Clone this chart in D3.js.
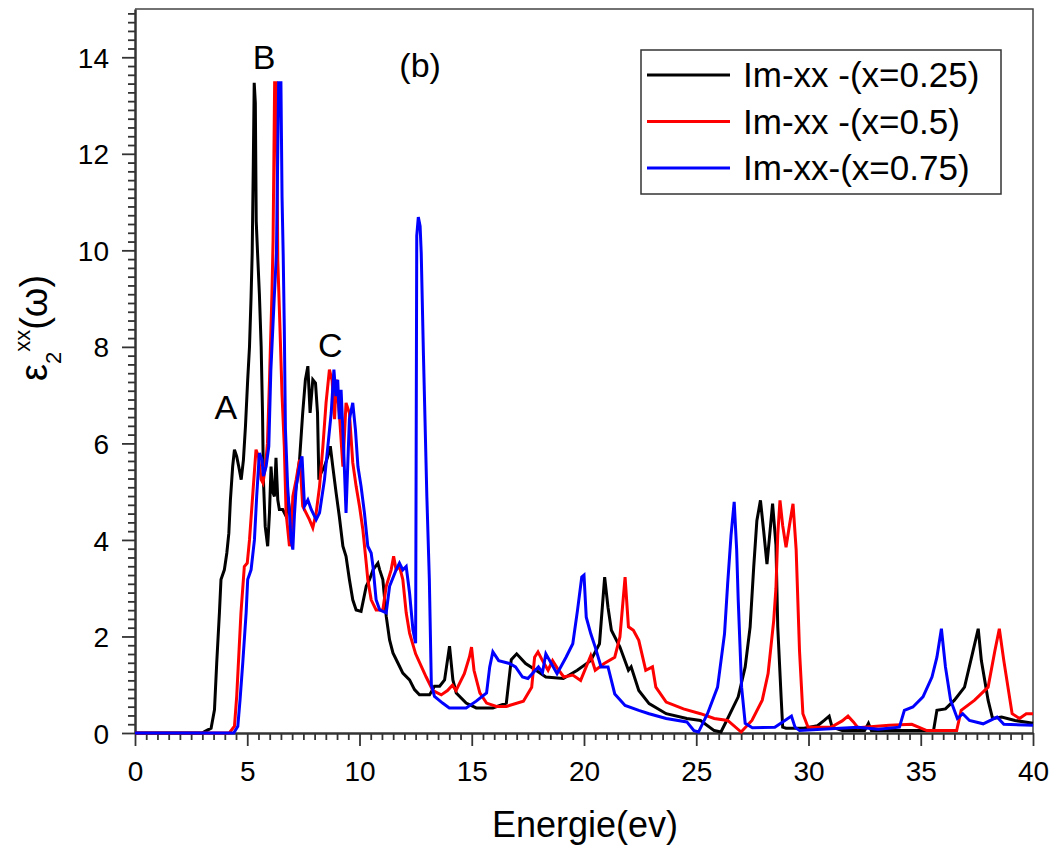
<!DOCTYPE html>
<html>
<head>
<meta charset="utf-8">
<script src="https://cdn.jsdelivr.net/npm/d3@7"></script>
<style>
  body { margin: 0; background: #fff; }
  svg text { font-family: "Liberation Sans", Arial, sans-serif; fill: #000; }
</style>
</head>
<body>
<div id="chart"></div>
<script>
// data (energy in eV, eps2 value)
var e025 = [0, 3.0, 3.1, 3.39, 3.54, 3.64, 3.76, 3.83, 3.98, 4.09, 4.18, 4.25, 4.35, 4.43, 4.53, 4.62, 4.73, 4.83, 4.92, 5.02, 5.1, 5.17, 5.22, 5.27, 5.31, 5.36, 5.4, 5.46, 5.54, 5.62, 5.68, 5.72, 5.8, 5.91, 5.99, 6.06, 6.13, 6.21, 6.28, 6.36, 6.43, 6.58, 6.73, 6.8, 6.88, 7.03, 7.18, 7.33, 7.47, 7.59, 7.7, 7.8, 7.92, 8.04, 8.13, 8.19, 8.29, 8.44, 8.59, 8.7, 8.81, 8.96, 9.1, 9.26, 9.4, 9.55, 9.7, 9.85, 10.07, 10.3, 10.45, 10.6, 10.82, 10.9, 11.04, 11.19, 11.34, 11.49, 11.71, 11.93, 12.23, 12.45, 12.67, 13.12, 13.34, 13.57, 13.79, 14.01, 14.16, 14.31, 14.75, 15.2, 15.94, 16.54, 16.76, 17.0, 17.4, 17.86, 18.3, 19.08, 19.7, 20.3, 20.69, 20.92, 21.07, 21.22, 21.6, 21.98, 22.1, 22.44, 22.9, 23.66, 24.58, 25.19, 25.8, 26.1, 26.4, 26.87, 27.18, 27.4, 27.56, 27.7, 27.86, 28.0, 28.15, 28.4, 28.55, 28.63, 28.78, 28.85, 29.0, 29.8, 30.4, 30.7, 30.92, 31.05, 31.5, 32.5, 32.67, 32.8, 34, 35.57, 35.72, 36.1, 36.5, 36.95, 37.33, 37.56, 37.7, 38.0, 38.2, 38.6, 39.2, 40];
var v025 = [0, 0, 0.03, 0.1, 0.48, 1.45, 2.49, 3.18, 3.38, 3.73, 4.14, 4.83, 5.52, 5.87, 5.73, 5.52, 5.25, 5.66, 6.35, 7.32, 8.0, 9.03, 9.94, 11.8, 13.47, 13.05, 10.6, 9.94, 9.1, 8.0, 6.63, 5.25, 4.28, 3.87, 4.56, 5.52, 5.0, 4.9, 5.7, 4.83, 4.63, 4.63, 4.49, 4.9, 4.63, 4.56, 5.11, 5.66, 6.63, 7.32, 7.6, 6.63, 7.32, 7.25, 6.63, 5.25, 5.39, 5.52, 5.73, 5.94, 5.52, 4.97, 4.49, 3.87, 3.66, 3.18, 2.76, 2.55, 2.52, 3.04, 3.18, 3.38, 3.52, 3.38, 3.18, 2.42, 1.93, 1.66, 1.45, 1.24, 1.1, 0.9, 0.79, 0.79, 0.97, 0.97, 1.1, 1.8, 1.1, 0.83, 0.62, 0.52, 0.52, 0.62, 1.52, 1.64, 1.44, 1.3, 1.16, 1.13, 1.3, 1.5, 1.85, 3.23, 2.6, 2.13, 1.78, 1.3, 1.37, 0.88, 0.61, 0.4, 0.3, 0.26, 0.05, 0.02, 0.3, 0.75, 1.37, 2.2, 3.44, 4.4, 4.82, 4.2, 3.5, 4.75, 3.9, 2.2, 0.75, 0.12, 0.1, 0.1, 0.15, 0.26, 0.35, 0.12, 0.05, 0.05, 0.2, 0.05, 0.05, 0.05, 0.47, 0.5, 0.68, 0.95, 1.7, 2.16, 1.5, 0.68, 0.3, 0.33, 0.26, 0.2];

var e05 = [0, 4.2, 4.43, 4.53, 4.72, 4.87, 5.0, 5.1, 5.25, 5.39, 5.5, 5.62, 5.7, 5.81, 5.9, 5.99, 6.1, 6.15, 6.22, 6.3, 6.36, 6.45, 6.55, 6.65, 6.73, 6.88, 6.95, 7.03, 7.18, 7.33, 7.4, 7.47, 7.62, 7.77, 7.92, 8.07, 8.22, 8.37, 8.51, 8.66, 8.78, 8.89, 8.96, 9.1, 9.26, 9.4, 9.55, 9.7, 9.85, 10.0, 10.15, 10.3, 10.37, 10.52, 10.74, 11.04, 11.19, 11.41, 11.52, 11.63, 11.78, 11.93, 12.08, 12.23, 12.5, 12.97, 13.27, 13.64, 13.92, 14.14, 14.3, 14.67, 14.9, 14.99, 15.1, 15.36, 15.66, 16.1, 16.54, 17.3, 17.67, 17.8, 17.95, 18.15, 18.4, 18.6, 18.8, 19.1, 19.5, 19.85, 20.3, 20.5, 20.9, 21.37, 21.6, 21.83, 21.98, 22.2, 22.44, 22.75, 23.05, 23.2, 23.66, 24.43, 25.19, 25.8, 26.4, 27.0, 27.48, 27.94, 28.2, 28.45, 28.55, 28.63, 28.73, 28.85, 29.0, 29.15, 29.31, 29.45, 29.6, 29.75, 29.98, 31.0, 31.5, 31.76, 32.0, 32.2, 33.6, 34.6, 35.27, 36.6, 36.8, 37.4, 38.0, 38.3, 38.5, 38.7, 39.07, 39.4, 39.7, 40];
var v05 = [0, 0, 0.14, 0.76, 2.49, 3.45, 3.52, 4.0, 4.97, 5.87, 5.73, 5.25, 5.18, 5.52, 6.0, 7.3, 9.1, 10.2, 13.47, 13.47, 9.8, 8.5, 7.0, 5.94, 4.56, 3.87, 4.0, 4.9, 5.25, 5.66, 5.25, 4.7, 4.56, 4.42, 4.25, 4.56, 5.11, 5.94, 6.84, 7.53, 7.3, 6.5, 7.32, 6.63, 5.52, 6.84, 6.63, 5.6, 5.11, 4.7, 4.21, 3.52, 3.18, 2.76, 2.55, 2.55, 3.04, 3.38, 3.66, 3.38, 3.45, 3.18, 2.49, 2.07, 1.64, 1.16, 0.88, 0.79, 0.88, 0.99, 0.88, 1.23, 1.58, 1.78, 1.3, 0.83, 0.62, 0.55, 0.55, 0.66, 0.95, 1.57, 1.68, 1.5, 1.3, 1.5, 1.35, 1.16, 1.2, 1.09, 1.6, 1.3, 1.44, 1.57, 1.99, 3.23, 2.2, 2.13, 1.92, 1.3, 1.37, 0.95, 0.64, 0.5, 0.4, 0.3, 0.26, 0.02, 0.26, 0.68, 1.23, 2.33, 3.0, 4.1, 4.82, 4.3, 3.85, 4.3, 4.75, 3.8, 1.7, 0.4, 0.12, 0.12, 0.25, 0.35, 0.23, 0.11, 0.16, 0.18, 0.05, 0.05, 0.47, 0.68, 0.95, 1.7, 2.16, 1.5, 0.4, 0.3, 0.4, 0.4];

var e075 = [0, 4.4, 4.58, 4.68, 4.8, 4.95, 5.02, 5.17, 5.32, 5.42, 5.54, 5.66, 5.72, 5.84, 5.96, 6.05, 6.2, 6.3, 6.4, 6.5, 6.55, 6.6, 6.65, 6.7, 6.8, 6.88, 6.95, 7.03, 7.1, 7.18, 7.33, 7.44, 7.55, 7.7, 7.85, 8.07, 8.22, 8.44, 8.59, 8.74, 8.86, 8.95, 9.03, 9.1, 9.18, 9.29, 9.4, 9.55, 9.7, 9.82, 9.93, 10.07, 10.22, 10.37, 10.52, 10.6, 10.74, 10.9, 11.19, 11.34, 11.63, 11.78, 11.93, 12.08, 12.23, 12.38, 12.5, 12.55, 12.62, 12.7, 12.75, 12.85, 13.0, 13.11, 13.2, 13.34, 13.7, 14.0, 14.75, 15.2, 15.66, 15.8, 15.94, 16.2, 16.68, 16.95, 17.26, 17.5, 17.97, 18.15, 18.3, 18.8, 19.2, 19.5, 19.71, 19.9, 20.0, 20.1, 20.3, 20.5, 20.76, 21.07, 21.37, 21.83, 22.44, 22.9, 23.66, 24.58, 24.9, 25.1, 25.5, 25.95, 26.26, 26.4, 26.55, 26.69, 26.8, 26.87, 27.02, 27.18, 27.5, 28.5, 28.85, 29.24, 29.4, 29.6, 32.2, 33.1, 34.05, 34.27, 34.65, 35.1, 35.5, 35.72, 35.92, 36.1, 36.33, 36.63, 36.87, 37.17, 37.78, 38.4, 38.7, 40];
var v075 = [0, 0, 0.14, 0.69, 1.45, 2.49, 3.18, 3.38, 4.0, 4.9, 5.8, 5.66, 5.32, 5.52, 5.94, 7.5, 9.0, 9.94, 13.47, 13.47, 11.1, 9.94, 8.4, 6.3, 5.1, 4.56, 4.0, 3.8, 4.5, 5.1, 5.52, 5.73, 4.7, 4.83, 4.63, 4.42, 4.56, 5.25, 5.94, 6.63, 7.53, 6.98, 7.32, 6.5, 7.11, 5.94, 4.56, 6.5, 6.84, 6.28, 5.52, 5.11, 4.56, 3.87, 3.73, 3.45, 2.76, 2.55, 2.49, 3.04, 3.38, 3.52, 3.38, 3.45, 2.9, 2.14, 1.86, 10.3, 10.69, 10.5, 9.94, 7.8, 4.9, 3.2, 1.0, 0.76, 0.62, 0.52, 0.52, 0.66, 0.83, 1.37, 1.68, 1.5, 1.44, 1.37, 1.16, 1.13, 1.37, 1.25, 1.64, 1.23, 1.57, 1.85, 2.54, 3.23, 3.27, 2.4, 2.06, 1.78, 1.37, 1.37, 0.81, 0.57, 0.47, 0.4, 0.3, 0.23, 0.05, 0.02, 0.4, 0.95, 2.06, 3.1, 4.1, 4.79, 3.8, 2.75, 0.95, 0.2, 0.11, 0.12, 0.23, 0.35, 0.12, 0.05, 0.12, 0.08, 0.12, 0.47, 0.54, 0.75, 1.16, 1.57, 2.16, 1.37, 0.68, 0.3, 0.4, 0.26, 0.19, 0.33, 0.18, 0.16];

var seriesNames = ["Im-xx -(x=0.25)", "Im-xx -(x=0.5)", "Im-xx-(x=0.75)"];
var seriesColors = ["#000000", "#ff0000", "#0000ff"];
var xTicks = [0, 5, 10, 15, 20, 25, 30, 35, 40];
var yTicks = [0, 2, 4, 6, 8, 10, 12, 14];
var peakLabels = ["A", "B", "C", "(b)"];
var peakX = [4.05, 5.75, 8.7, 12.7];
var peakY = [6.5, 13.75, 7.8, 13.6];

var width = 1052, height = 848;
var margin = {top: 9, right: 19, bottom: 115, left: 135};
var w = width - margin.left - margin.right,
    h = height - margin.top - margin.bottom;

var x = d3.scaleLinear().domain([0, 40]).range([0, w]);
var y = d3.scaleLinear().domain([0, 15]).range([h, 0]);

var svg = d3.select("#chart").append("svg")
    .attr("width", width)
    .attr("height", height)
  .append("g")
    .attr("transform", "translate(" + margin.left + "," + margin.top + ")");

// frame (top and right)
svg.append("path")
    .attr("d", "M0,0H" + w + "V" + h)
    .attr("fill", "none")
    .attr("stroke", "#444")
    .attr("stroke-width", 1.5);

// minor ticks
var xMinor = d3.range(0, 40.01, 0.5).filter(function(d) { return d % 5 !== 0; });
var yMinor = [];
d3.range(0, 16, 2).forEach(function(m) {
  for (var k = 1; k <= 10; k++) {
    var v = m + k * 2 / 11;
    if (v < 15) yMinor.push(v);
  }
});

svg.append("g")
    .attr("transform", "translate(0," + h + ")")
    .call(d3.axisBottom(x).tickValues(xMinor).tickSize(7).tickFormat("").tickSizeOuter(0))
    .call(function(g) { g.select(".domain").remove(); });
svg.append("g")
    .call(d3.axisLeft(y).tickValues(yMinor).tickSize(7).tickFormat("").tickSizeOuter(0))
    .call(function(g) { g.select(".domain").remove(); });

var xAxis = svg.append("g")
    .attr("transform", "translate(0," + h + ")")
    .call(d3.axisBottom(x).tickValues(xTicks).tickSize(13).tickPadding(15).tickSizeOuter(0));
var yAxis = svg.append("g")
    .call(d3.axisLeft(y).tickValues(yTicks).tickSize(13).tickPadding(13).tickSizeOuter(0));

[xAxis, yAxis].forEach(function(g) {
  g.selectAll("text")
      .style("font-family", "'Liberation Sans', Arial, sans-serif")
      .style("font-size", "28px")
      .attr("fill", "#000");
  g.select(".domain").attr("stroke", "#333").attr("stroke-width", 2.5);
});
yAxis.selectAll("text").attr("dy", "0.36em");
svg.selectAll(".tick line").attr("stroke", "#333").attr("stroke-width", 1.8);

// curves
var line = d3.line()
    .x(function(d) { return x(d[0]); })
    .y(function(d) { return y(d[1]); });

var seriesData = [d3.zip(e025, v025), d3.zip(e05, v05), d3.zip(e075, v075)];
seriesData.forEach(function(d, i) {
  svg.append("path")
      .datum(d)
      .attr("fill", "none")
      .attr("stroke", seriesColors[i])
      .attr("stroke-width", 3)
      .attr("stroke-linejoin", "miter")
      .attr("d", line);
});

// peak labels
peakLabels.forEach(function(t, i) {
  svg.append("text")
      .attr("x", x(peakX[i]))
      .attr("y", y(peakY[i]))
      .attr("text-anchor", "middle")
      .style("font-size", "34px")
      .text(t);
});

// legend
var legend = svg.append("g").attr("transform", "translate(" + (641 - margin.left) + "," + (50 - margin.top) + ")");
legend.append("rect")
    .attr("width", 360)
    .attr("height", 144)
    .attr("fill", "#fff")
    .attr("stroke", "#333")
    .attr("stroke-width", 1.5);
seriesNames.forEach(function(n, i) {
  var ly = 25 + i * 46.5;
  legend.append("line")
      .attr("x1", 6).attr("x2", 89)
      .attr("y1", ly).attr("y2", ly)
      .attr("stroke", seriesColors[i])
      .attr("stroke-width", 3);
  legend.append("text")
      .attr("x", 102)
      .attr("y", ly + 12)
      .style("font-size", "35px")
      .text(n);
});

// axis titles
svg.append("text")
    .attr("x", 585 - margin.left)
    .attr("y", h + 104)
    .attr("text-anchor", "middle")
    .style("font-size", "36px")
    .text("Energie(ev)");

var yt = svg.append("text")
    .attr("transform", "translate(" + (47 - margin.left) + "," + (381 - margin.top) + ") rotate(-90)")
    .style("font-size", "38px");
yt.append("tspan").text("ε");
yt.append("tspan").attr("dy", 14).style("font-size", "22px").text("2");
yt.append("tspan").attr("dy", -31).style("font-size", "22px").text("xx");
yt.append("tspan").attr("dy", 17).text("(ω)");
</script>
</body>
</html>
